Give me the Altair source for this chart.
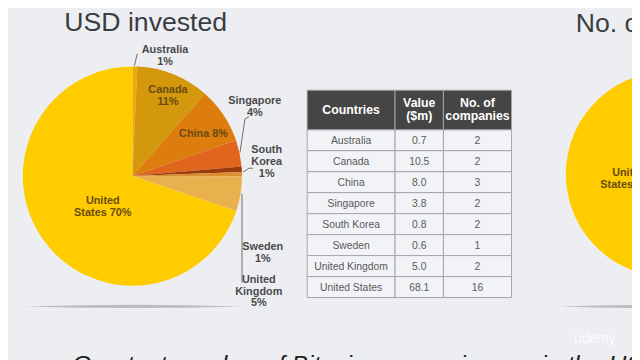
import altair as alt
import pandas as pd

# ---------------- data ----------------
countries = ["Australia", "Canada", "China", "Singapore", "South Korea",
             "Sweden", "United Kingdom", "United States"]
value_musd = [0.7, 10.5, 8.0, 3.8, 0.8, 0.6, 5.0, 68.1]
companies = [2, 2, 3, 2, 2, 1, 2, 16]
value_text = ["0.7", "10.5", "8.0", "3.8", "0.8", "0.6", "5.0", "68.1"]
slice_colors = ["#F0AA02", "#D3980C", "#DC7D0E", "#E0661E", "#9C3C0A",
                "#DB8E32", "#E9B04E", "#FFCC00"]
pie_labels = ["Australia\n1%", "Canada\n11%", "China 8%", "Singapore\n4%",
              "South\nKorea\n1%", "Sweden\n1%", "United\nKingdom\n5%",
              "United\nStates 70%"]
header = ["Countries", "Value\n($m)", "No. of\ncompanies"]
title_left = "USD invested"
title_right = "No. of companies"
right_pie_label = "United\nStates 53%"
footer = "Greatest number of Bitcoin companies are in the US"
watermark = "udemy"

# ---------------- layout (chart px) ----------------
W, H = 632, 352
PIE1 = dict(cx=126, cy=168, r=111)
PIE2 = dict(cx=669, cy=166, r=104)
label_xy = [(159, 46), (162, 87), (198, 125), (250, 98), (262, 154),
            (258, 246), (254, 285), (96, 199)]
label_inside = [False, True, True, False, False, False, False, True]
LH = 12
col_edges = [303, 392, 441, 510]
head_top, head_bot = 81, 121
row_h = 21.25

BG = "#ECEEF2"


def first_line_y(center, text, lh):
    return center - (text.count("\n")) * lh / 2


pie_df = pd.DataFrame({"country": countries, "value": value_musd,
                       "companies": companies, "ord": list(range(len(countries)))})
color_scale = alt.Scale(domain=countries, range=slice_colors)

pie1 = alt.Chart(pie_df).mark_arc(radius=PIE1["r"], stroke=None).encode(
    theta=alt.Theta("value:Q", stack=True),
    color=alt.Color("country:N", scale=color_scale, legend=None),
    order=alt.Order("ord:Q"),
    x=alt.value(PIE1["cx"]), y=alt.value(PIE1["cy"]),
)
pie2 = alt.Chart(pie_df).mark_arc(radius=PIE2["r"], stroke=None).encode(
    theta=alt.Theta("companies:Q", stack=True),
    color=alt.Color("country:N", scale=color_scale, legend=None),
    order=alt.Order("ord:Q"),
    x=alt.value(PIE2["cx"]), y=alt.value(PIE2["cy"]),
)

# shadows under pies
sh_df = pd.DataFrame({"x": [PIE1["cx"] + 1, PIE2["cx"]], "y": [300, 300]})
shadow = alt.Chart(sh_df).mark_point(
    shape="M -1 0 Q 0 -0.03 1 0 Q 0 0.03 -1 0 Z", filled=True,
    color="#B5B6B8", opacity=0.9, size=48400, strokeWidth=0,
).encode(x=alt.X("x:Q", scale=None), y=alt.Y("y:Q", scale=None))

# pie labels
lab_df = pd.DataFrame({"t": pie_labels,
                       "x": [p[0] for p in label_xy],
                       "y": [first_line_y(p[1], t, LH) for p, t in zip(label_xy, pie_labels)],
                       "inside": label_inside})


def label_layer(df, color):
    return alt.Chart(df).mark_text(
        font="Liberation Sans", fontWeight="bold", fontSize=11, lineBreak="\n",
        lineHeight=LH, align="center", baseline="middle", color=color,
    ).encode(x=alt.X("x:Q", scale=None), y=alt.Y("y:Q", scale=None), text="t:N")


labels_in = label_layer(lab_df[lab_df.inside], "#6A4A12")
labels_out = label_layer(lab_df[~lab_df.inside], "#4A4A4A")
r2_df = pd.DataFrame({"t": [right_pie_label], "x": [629],
                      "y": [first_line_y(171, right_pie_label, LH)]})
labels2 = label_layer(r2_df, "#6A4A12")

# leader lines
lead_df = pd.DataFrame({
    "x": [128, 235, 240, 238, 244, 237],
    "y": [56, 144, 110, 164, 160, 186],
    "x2": [131, 240, 244, 244, 248, 237],
    "y2": [44, 110, 108, 160, 160, 276],
})
leaders = alt.Chart(lead_df).mark_rule(color="#6E6E6E", strokeWidth=1).encode(
    x=alt.X("x:Q", scale=None), y=alt.Y("y:Q", scale=None),
    x2="x2:Q", y2="y2:Q")

# ---------------- table ----------------
n = len(countries)
HLH = 13
cells = []
for ci in range(3):
    x0, x1 = col_edges[ci], col_edges[ci + 1]
    cells.append(dict(x=x0, x2=x1, y=head_top, y2=head_bot, kind="head",
                      t=header[ci], cx=(x0 + x1) / 2,
                      cy=first_line_y((head_top + head_bot) / 2, header[ci], HLH)))
    for ri in range(n):
        y0 = head_bot + ri * row_h
        txt = [countries[ri], value_text[ri], str(companies[ri])][ci]
        cells.append(dict(x=x0, x2=x1, y=y0, y2=y0 + row_h, kind="body",
                          t=txt, cx=(x0 + x1) / 2, cy=y0 + row_h / 2 + 0.5))
tab_df = pd.DataFrame(cells)
tab_head_rect = alt.Chart(tab_df[tab_df.kind == "head"]).mark_rect(
    stroke="#A3A5A8", strokeWidth=1, fill="#454545").encode(
    x=alt.X("x:Q", scale=None), x2="x2:Q",
    y=alt.Y("y:Q", scale=None), y2="y2:Q")
tab_body_rect = alt.Chart(tab_df[tab_df.kind == "body"]).mark_rect(
    stroke="#A3A5A8", strokeWidth=1, fill="#F1F3F6").encode(
    x=alt.X("x:Q", scale=None), x2="x2:Q",
    y=alt.Y("y:Q", scale=None), y2="y2:Q")
tab_head = alt.Chart(tab_df[tab_df.kind == "head"]).mark_text(
    font="Liberation Sans", fontWeight="bold", fontSize=12.5, color="#FFFFFF",
    lineBreak="\n", lineHeight=HLH, align="center", baseline="middle",
).encode(x=alt.X("cx:Q", scale=None), y=alt.Y("cy:Q", scale=None), text="t:N")
tab_body = alt.Chart(tab_df[tab_df.kind == "body"]).mark_text(
    font="Liberation Sans", fontSize=10.5, color="#5A5A5A",
    align="center", baseline="middle",
).encode(x=alt.X("cx:Q", scale=None), y=alt.Y("cy:Q", scale=None), text="t:N")

# ---------------- titles & footer ----------------
ttl_df = pd.DataFrame({"t": [title_left, title_right], "x": [57, 575], "y": [21, 22]})
titles = alt.Chart(ttl_df).mark_text(
    font="Liberation Sans", fontSize=27, color="#3A3D42", align="left",
    baseline="alphabetic",
).encode(x=alt.X("x:Q", scale=None), y=alt.Y("y:Q", scale=None), text="t:N")

foot_df = pd.DataFrame({"t": [footer], "x": [65], "y": [367]})
foot = alt.Chart(foot_df).mark_text(
    font="Liberation Sans", fontSize=25, fontStyle="italic", color="#222222",
    align="left", baseline="alphabetic",
).encode(x=alt.X("x:Q", scale=None), y=alt.Y("y:Q", scale=None), text="t:N")

wm_df = pd.DataFrame({"t": [watermark], "x": [594], "y": [333]})
wm = alt.Chart(wm_df).mark_text(
    font="Liberation Sans", fontSize=14, color="#FFFFFF", opacity=0.8,
    align="center", baseline="middle",
).encode(x=alt.X("x:Q", scale=None), y=alt.Y("y:Q", scale=None), text="t:N")

chart = alt.layer(
    shadow, pie1, pie2, leaders, labels_in, labels_out, labels2,
    tab_body_rect, tab_head_rect, tab_head, tab_body, titles, foot, wm,
).resolve_scale(theta="independent").properties(
    width=W, height=H, autosize=alt.AutoSizeParams(type="none"),
    padding=0, background=BG,
).configure_view(strokeWidth=0)

chart.save("out.html", embed_options={"renderer": "svg", "actions": False})
